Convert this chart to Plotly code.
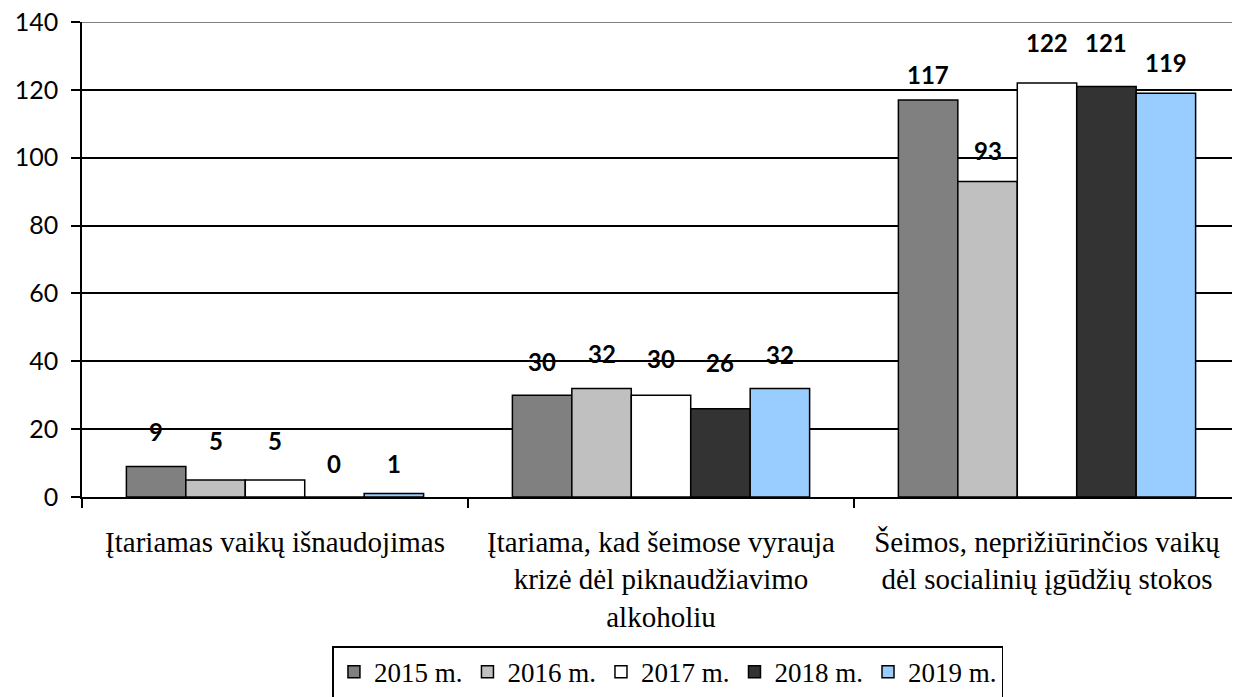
import plotly.graph_objects as go

categories = [
    "Įtariamas vaikų išnaudojimas",
    "Įtariama, kad šeimose vyrauja<br>krizė dėl piknaudžiavimo<br>alkoholiu",
    "Šeimos, neprižiūrinčios vaikų<br>dėl socialinių įgūdžių stokos",
]
years = ["2015 m.", "2016 m.", "2017 m.", "2018 m.", "2019 m."]
v2015 = [9, 30, 117]
v2016 = [5, 32, 93]
v2017 = [5, 30, 122]
v2018 = [0, 26, 121]
v2019 = [1, 32, 119]
series = [v2015, v2016, v2017, v2018, v2019]

colors = ["#808080", "#C0C0C0", "#FFFFFF", "#333333", "#99CCFF"]
# how far above each bar its label sits (value units), per year, per category
label_nudge = [
    [10.2, 9.8, 7.4],
    [11.8, 10.4, 9.0],
    [11.8, 10.9, 12.0],
    [10.0, 13.5, 13.0],
    [9.0, 9.9, 9.0],
]

BARGAP = 0.23
YMAX = 140
SANS = "Lato"
SERIF = "Liberation Serif"

fig = go.Figure()
for name, vals, col in zip(years, series, colors):
    fig.add_trace(go.Bar(
        x=categories, y=vals, name=name,
        marker=dict(color=col, line=dict(color="black", width=1.5)),
    ))

# value labels, placed over each bar's centre
n = len(years)
w = (1 - BARGAP) / n
for i, vals in enumerate(series):
    for j, v in enumerate(vals):
        fig.add_annotation(
            x=j + (i - (n - 1) / 2) * w, y=v + label_nudge[i][j],
            xref="x", yref="y", text=f"<b>{v}</b>", showarrow=False,
            font=dict(family=SANS, size=24, color="black"),
        )

# top edge of the plot is a grey line
fig.add_shape(type="line", xref="paper", x0=0, x1=1, yref="y", y0=YMAX, y1=YMAX,
              line=dict(color="#808080", width=2))

# page body has an 8px margin, so the figure is 8px smaller than the window
fig.update_layout(
    width=1232, height=689,
    margin=dict(l=74, r=0, t=14, b=200, autoexpand=False),
    paper_bgcolor="white", plot_bgcolor="white",
    barmode="group", bargap=BARGAP, bargroupgap=0,
    showlegend=True,
    legend=dict(
        orientation="h", xref="paper", x=0.506, xanchor="center",
        yref="paper", y=-0.314, yanchor="top",
        bordercolor="black", borderwidth=1.5,
        font=dict(family=SERIF, size=27, color="black"),
        itemwidth=30, tracegroupgap=0,
    ),
)
fig.update_xaxes(
    type="category", tickson="boundaries", tickangle=0,
    showline=True, linecolor="black", linewidth=1.5,
    ticks="outside", ticklen=9, tickwidth=1.5, tickcolor="black",
    showgrid=False,
    tickfont=dict(family=SERIF, size=29, color="black"),
    ticklabelstandoff=18,
)
fig.update_yaxes(
    range=[0, YMAX], dtick=20,
    showline=True, linecolor="black", linewidth=1.5,
    ticks="outside", ticklen=9, tickwidth=1.5, tickcolor="black",
    showgrid=True, gridcolor="black", gridwidth=1.5,
    zeroline=False,
    tickfont=dict(family=SANS, size=25, color="black"),
    ticklabelstandoff=8, ticklabeloverflow="allow",
)

fig.write_html("out.html")
